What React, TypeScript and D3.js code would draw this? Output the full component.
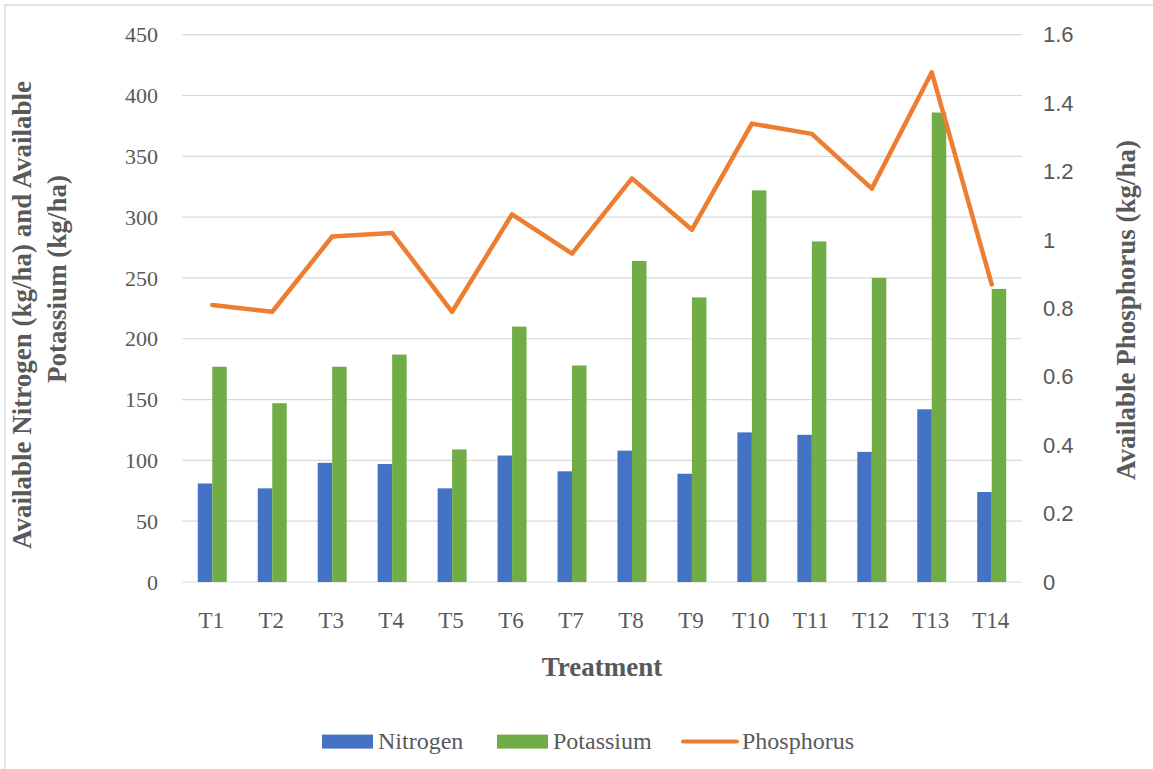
import React, { useRef, useEffect } from "react";
import * as d3 from "d3";

const categories = ["T1", "T2", "T3", "T4", "T5", "T6", "T7", "T8", "T9", "T10", "T11", "T12", "T13", "T14"];
const nitrogen = [81, 77, 98, 97, 77, 104, 91, 108, 89, 123, 121, 107, 142, 74];
const potassium = [177, 147, 177, 187, 109, 210, 178, 264, 234, 322, 280, 250, 386, 241];
const phosphorus = [0.81, 0.79, 1.01, 1.02, 0.79, 1.075, 0.96, 1.18, 1.03, 1.34, 1.31, 1.15, 1.49, 0.87];
const leftTicks = [0, 50, 100, 150, 200, 250, 300, 350, 400, 450];
const rightTicks = [0, 0.2, 0.4, 0.6, 0.8, 1, 1.2, 1.4, 1.6];

const BLUE = "#4472C4";
const GREEN = "#70AD47";
const ORANGE = "#ED7D31";
const GRID = "#d9d9d9";
const TEXT = "#595959";
const SERIF = "'Liberation Serif', 'Times New Roman', serif";
const SANS = "'Liberation Sans', Arial, sans-serif";

const App = () => {
  const svgRef = useRef<SVGSVGElement>(null);

  useEffect(() => {
    document.body.style.margin = "0";
    const W = 1153;
    const H = 769;
    const plot = { left: 182.3, right: 1021.7, top: 34.7, bottom: 582 };

    const svg = d3.select(svgRef.current).attr("width", W).attr("height", H);
    svg.selectAll("*").remove();

    svg.append("rect").attr("width", W).attr("height", H).attr("fill", "#fff");
    svg
      .append("rect")
      .attr("x", 5)
      .attr("y", 5)
      .attr("width", W + 20)
      .attr("height", H + 20)
      .attr("fill", "none")
      .attr("stroke", GRID)
      .attr("stroke-width", 1.5);

    const x = d3.scaleBand().domain(categories).range([plot.left, plot.right]).padding(0);
    const sub = d3.scaleBand().domain(["N", "K"]).range([0, 29]).padding(0);
    const yL = d3.scaleLinear().domain([0, 450]).range([plot.bottom, plot.top]);
    const yR = d3.scaleLinear().domain([0, 1.6]).range([plot.bottom, plot.top]);

    // gridlines
    svg
      .append("g")
      .selectAll("line")
      .data(leftTicks)
      .join("line")
      .attr("x1", plot.left)
      .attr("x2", plot.right)
      .attr("y1", (d) => yL(d))
      .attr("y2", (d) => yL(d))
      .attr("stroke", GRID)
      .attr("stroke-width", 1.2);

    // left tick labels
    svg
      .append("g")
      .selectAll("text")
      .data(leftTicks)
      .join("text")
      .attr("x", 158)
      .attr("y", (d) => yL(d))
      .attr("dy", "0.35em")
      .attr("text-anchor", "end")
      .attr("font-family", SERIF)
      .attr("font-size", 22)
      .attr("fill", TEXT)
      .text((d) => d);

    // right tick labels
    svg
      .append("g")
      .selectAll("text")
      .data(rightTicks)
      .join("text")
      .attr("x", 1043)
      .attr("y", (d) => yR(d))
      .attr("dy", "0.35em")
      .attr("text-anchor", "start")
      .attr("font-family", SANS)
      .attr("font-size", 22)
      .attr("fill", TEXT)
      .text((d) => d3.format("~g")(d));

    // x tick labels
    svg
      .append("g")
      .selectAll("text")
      .data(categories)
      .join("text")
      .attr("x", (d) => x(d)! + x.bandwidth() / 2 - 1)
      .attr("y", 628)
      .attr("text-anchor", "middle")
      .attr("font-family", SERIF)
      .attr("font-size", 23)
      .attr("fill", TEXT)
      .text((d) => d);

    // bars
    const offset = x.bandwidth() / 2 - 14.5;
    const barsData = categories.map((c, i) => ({ c, N: nitrogen[i], K: potassium[i] }));
    const groups = svg
      .append("g")
      .selectAll("g")
      .data(barsData)
      .join("g")
      .attr("transform", (d) => `translate(${x(d.c)! + offset},0)`);
    groups
      .selectAll("rect")
      .data((d) => [
        { key: "N", v: d.N },
        { key: "K", v: d.K },
      ])
      .join("rect")
      .attr("x", (d) => sub(d.key)!)
      .attr("width", sub.bandwidth())
      .attr("y", (d) => yL(d.v))
      .attr("height", (d) => yL(0) - yL(d.v))
      .attr("fill", (d) => (d.key === "N" ? BLUE : GREEN));

    // phosphorus line
    const line = d3
      .line<number>()
      .x((_, i) => x(categories[i])! + x.bandwidth() / 2)
      .y((d) => yR(d));
    svg
      .append("path")
      .datum(phosphorus)
      .attr("d", line)
      .attr("fill", "none")
      .attr("stroke", ORANGE)
      .attr("stroke-width", 4.5)
      .attr("stroke-linejoin", "round")
      .attr("stroke-linecap", "round");

    // axis titles
    svg
      .append("text")
      .attr("x", (plot.left + plot.right) / 2)
      .attr("y", 676)
      .attr("text-anchor", "middle")
      .attr("font-family", SERIF)
      .attr("font-size", 27)
      .attr("font-weight", "bold")
      .attr("fill", TEXT)
      .text("Treatment");

    svg
      .append("text")
      .attr("transform", "translate(31,315) rotate(-90)")
      .attr("text-anchor", "middle")
      .attr("font-family", SERIF)
      .attr("font-size", 27)
      .attr("font-weight", "bold")
      .attr("fill", TEXT)
      .text("Available Nitrogen (kg/ha) and Available");
    svg
      .append("text")
      .attr("transform", "translate(66,279) rotate(-90)")
      .attr("text-anchor", "middle")
      .attr("font-family", SERIF)
      .attr("font-size", 27)
      .attr("font-weight", "bold")
      .attr("fill", TEXT)
      .text("Potassium (kg/ha)");

    svg
      .append("text")
      .attr("transform", "translate(1135,310) rotate(-90)")
      .attr("text-anchor", "middle")
      .attr("font-family", SERIF)
      .attr("font-size", 27)
      .attr("font-weight", "bold")
      .attr("fill", TEXT)
      .text("Available Phosphorus (kg/ha)");

    // legend
    const legend = svg.append("g");
    const items = [
      { name: "Nitrogen", color: BLUE, type: "rect", x: 322 },
      { name: "Potassium", color: GREEN, type: "rect", x: 497 },
      { name: "Phosphorus", color: ORANGE, type: "line", x: 683 },
    ];
    items.forEach((it) => {
      if (it.type === "rect") {
        legend
          .append("rect")
          .attr("x", it.x)
          .attr("y", 734.6)
          .attr("width", 51)
          .attr("height", 14)
          .attr("fill", it.color);
      } else {
        legend
          .append("line")
          .attr("x1", it.x)
          .attr("x2", it.x + 54)
          .attr("y1", 741.6)
          .attr("y2", 741.6)
          .attr("stroke", it.color)
          .attr("stroke-width", 4)
          .attr("stroke-linecap", "round");
      }
      legend
        .append("text")
        .attr("x", it.type === "rect" ? it.x + 56 : it.x + 59)
        .attr("y", 749)
        .attr("font-family", SERIF)
        .attr("font-size", 24)
        .attr("fill", TEXT)
        .text(it.name);
    });

    return () => {
      svg.selectAll("*").remove();
    };
  }, []);

  return <svg ref={svgRef} style={{ position: "absolute", left: 0, top: 0, display: "block" }}></svg>;
};

export default App;
